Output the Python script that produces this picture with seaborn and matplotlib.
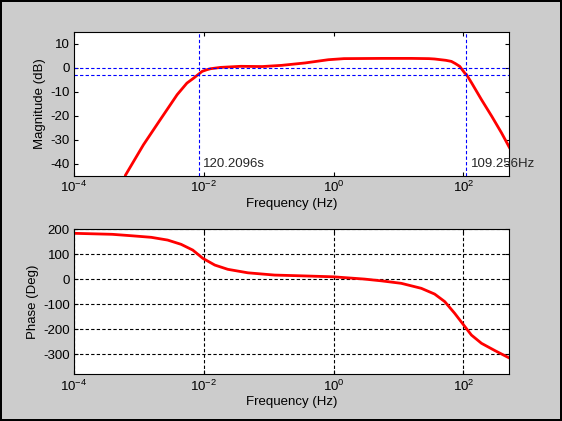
import numpy as np
import pandas as pd
import matplotlib
matplotlib.use("Agg")
import matplotlib.pyplot as plt
import seaborn as sns

# magnitude curve (log10 of frequency, dB)
mag_logf = [-3.21, -2.93, -2.67, -2.41, -2.26, -2.155, -2.09, -2.025, -1.95, -1.896,
            -1.74, -1.43, -1.1, -0.80, -0.44, -0.08, 0.16, 0.75, 1.2, 1.47, 1.558,
            1.73, 1.816, 1.88, 1.945, 2.022, 2.05, 2.13, 2.28, 2.44, 2.59, 2.72]
mag_db = [-44.8, -32.0, -21.5, -11.1, -6.3, -4.2, -2.8, -1.4, -0.7, -0.3,
          0.25, 0.7, 0.6, 1.1, 2.1, 3.45, 3.9, 4.0, 4.0, 3.9, 3.75,
          3.2, 2.75, 1.8, 0.67, -2.1, -2.8, -6.3, -13.2, -20.2, -27.1, -33.6]

# phase curve
ph_logf = [-4.0, -3.41, -3.10, -2.81, -2.557, -2.35, -2.17, -2.015, -1.83, -1.63,
           -1.32, -0.91, -0.50, 0.0, 0.475, 0.733, 1.043, 1.352, 1.558, 1.713,
           1.867, 2.006, 2.125, 2.28, 2.486, 2.718]
ph_deg = [184, 180, 174, 168, 157, 140, 117, 84, 57, 40,
          26, 17, 14, 10, 1, -6, -16, -36, -59, -89,
          -136, -183, -223, -256, -285, -316]

corner_low_s = 120.2096
corner_high_hz = 109.256

mag = pd.DataFrame({"f": np.power(10.0, mag_logf), "db": mag_db})
ph = pd.DataFrame({"f": np.power(10.0, ph_logf), "deg": ph_deg})

sns.set_theme(style="ticks")
plt.rcParams["font.family"] = ["Liberation Sans", "DejaVu Sans"]
plt.rcParams["mathtext.fontset"] = "custom"
plt.rcParams["mathtext.rm"] = "Liberation Sans"
plt.rcParams["mathtext.it"] = "Liberation Sans"
plt.rcParams["axes.unicode_minus"] = False

fs = 9.5

fig = plt.figure(figsize=(5.62, 4.21), dpi=100)
fig.patch.set_facecolor("#cccccc")
fig.patch.set_edgecolor("black")
fig.patch.set_linewidth(1.5)

ax1 = fig.add_axes([0.1317, 0.582, 0.7734, 0.342])
ax2 = fig.add_axes([0.1317, 0.1109, 0.7734, 0.3444])

for ax in (ax1, ax2):
    ax.set_facecolor("white")
    ax.set_xscale("log")
    ax.set_xlim(1e-4, 500)
    ax.set_xticks([1e-4, 1e-2, 1e0, 1e2])
    ax.xaxis.set_minor_locator(matplotlib.ticker.NullLocator())
    ax.tick_params(direction="in", length=3, width=0.8, top=True, right=True,
                   labelsize=fs, colors="black", pad=3)
    for s in ax.spines.values():
        s.set_color("black")
        s.set_linewidth(0.8)
    ax.set_xlabel("Frequency (Hz)", fontsize=fs, color="black", labelpad=2)

# magnitude
sns.lineplot(data=mag, x="f", y="db", ax=ax1, color="red", linewidth=2, sort=False)
ax1.set_ylim(-45, 15)
ax1.set_yticks([10, 0, -10, -20, -30, -40])
ax1.axhline(0, color="blue", linestyle="--", linewidth=0.8, dashes=(3, 2))
ax1.axhline(-3, color="blue", linestyle="--", linewidth=0.8, dashes=(3, 2))
ax1.axvline(1.0 / corner_low_s, color="blue", linestyle="--", linewidth=0.8, dashes=(3, 2))
ax1.axvline(corner_high_hz, color="blue", linestyle="--", linewidth=0.8, dashes=(3, 2))
ax1.text(0.0098, -40, "120.2096s", fontsize=fs, va="center", ha="left")
ax1.text(133, -40, "109.256Hz", fontsize=fs, va="center", ha="left",
         clip_on=False)
ax1.set_ylabel("Magnitude (dB)", fontsize=fs, color="black", labelpad=3)

# phase
sns.lineplot(data=ph, x="f", y="deg", ax=ax2, color="red", linewidth=2, sort=False)
ax2.set_ylim(-380, 200)
ax2.set_yticks([200, 100, 0, -100, -200, -300])
ax2.grid(True, color="black", linestyle="--", linewidth=0.8, dashes=(3, 2))
ax2.set_ylabel("Phase (Deg)", fontsize=fs, color="black", labelpad=3)

fig.savefig("out.png", dpi=100, facecolor=fig.get_facecolor(), edgecolor="black")
